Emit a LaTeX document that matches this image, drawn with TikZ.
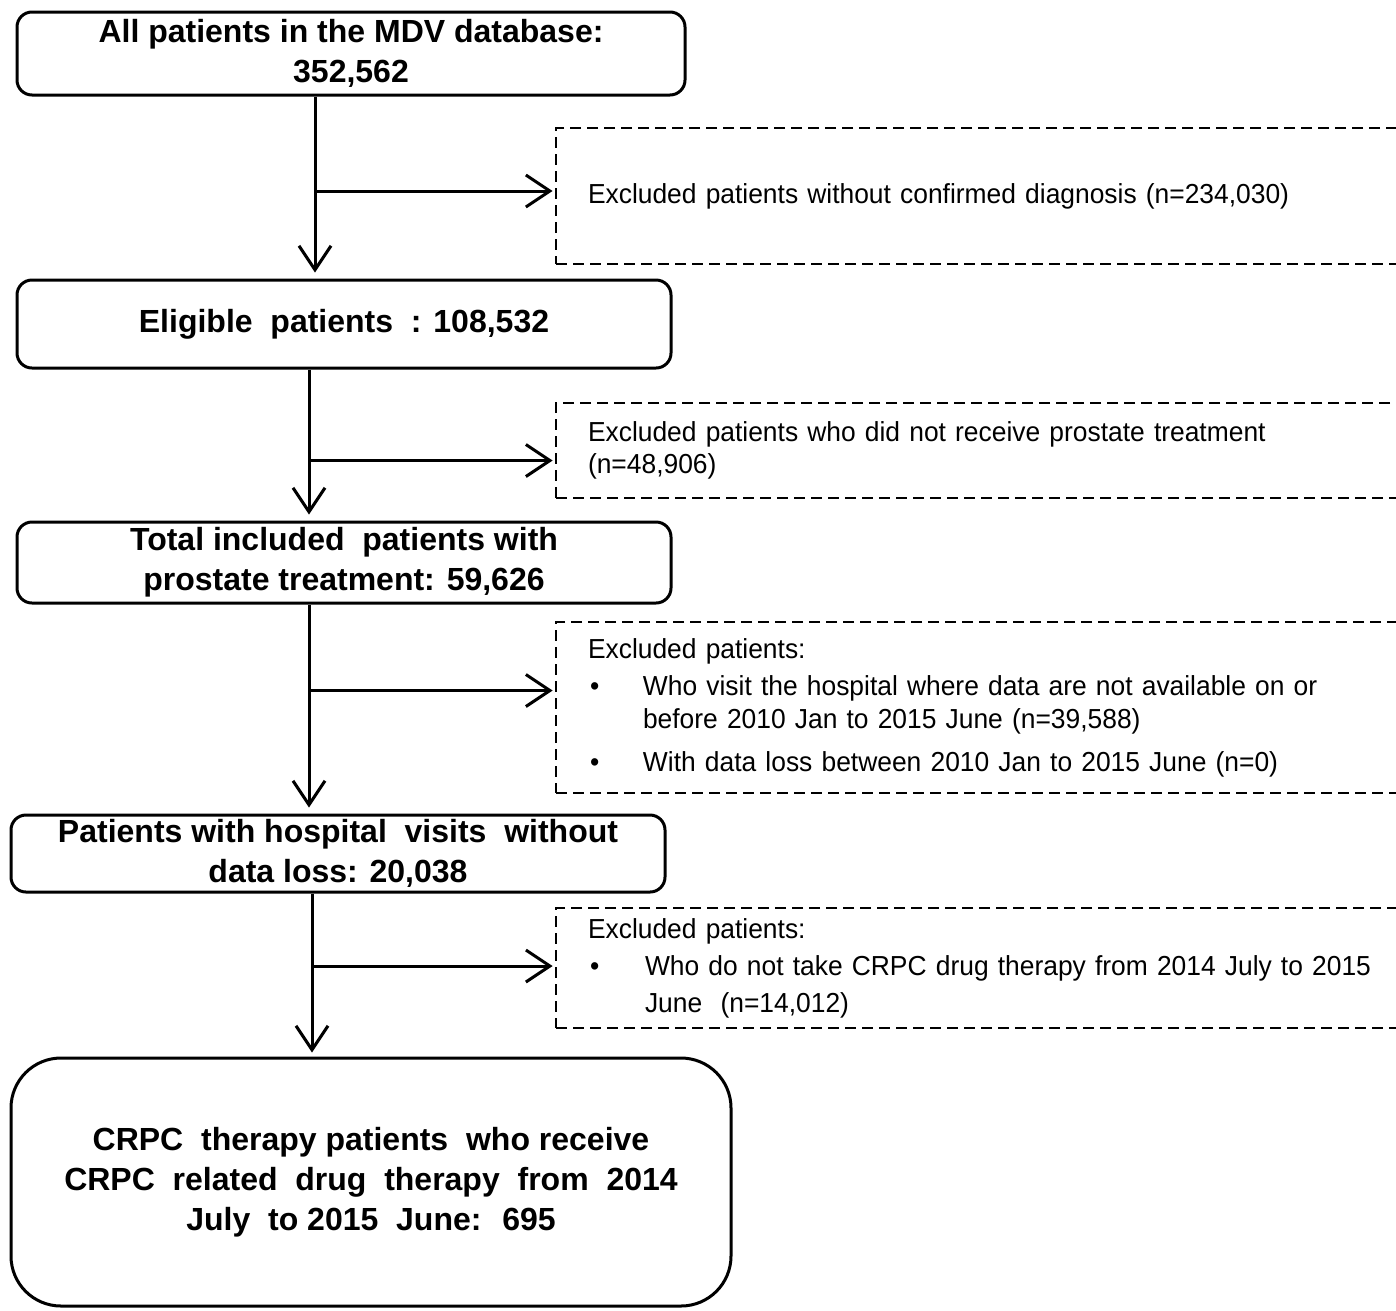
\documentclass[tikz,border=0pt]{standalone}
\usepackage{fontspec}
\setmainfont{Liberation Sans}
\newfontfamily\narrowfont[FakeStretch=0.96]{Liberation Sans}
\usetikzlibrary{arrows.meta,calc}
\begin{document}
\begin{tikzpicture}[x=1pt,y=-1pt,
  mainbox/.style={draw, line width=3pt, rounded corners=15pt, align=center,
    font=\fontsize{32}{40}\selectfont\bfseries, inner sep=0pt},
  exbox/.style={draw, line width=2.8pt, dash pattern=on 11pt off 6pt, align=left,
    text width=790pt, inner xsep=32pt, inner ysep=0pt, minimum width=854pt,
    font=\narrowfont\fontsize{27.5}{37}\selectfont},
  arr/.style={line width=3pt, -{Straight Barb[length=24pt,width=32pt,line width=3pt]}},
  branch/.style={line width=3pt, -{Straight Barb[length=24pt,width=32pt,line width=3pt]}, shorten >=2pt},
]
\useasboundingbox (0,0) rectangle (1396,1310);
\fill[white] (0,0) rectangle (1396,1310);

\node[mainbox, minimum width=668pt, minimum height=83pt] (b1) at (351,53.5)
  {All patients in the MDV database:\\352,562};
\node[mainbox, minimum width=654pt, minimum height=88pt] (b2) at (344,324)
  {Eligible \ patients \ : 108,532};
\node[mainbox, minimum width=654pt, minimum height=81pt] (b3) at (344,562.5)
  {Total included \ patients with\\prostate treatment: 59,626};
\node[mainbox, minimum width=654pt, minimum height=77pt] (b4) at (338,853.5)
  {Patients with hospital \ visits \ without\\data loss: 20,038};
\node[mainbox, rounded corners=50pt, minimum width=720pt, minimum height=248pt] (b5) at (371,1182)
  {CRPC \ therapy patients \ who receive\\CRPC \ related \ drug \ therapy \ from \ 2014\\July \ to 2015 \ June: \ 695};

\node[exbox, minimum height=136pt] (d1) at (983,196)
  {Excluded patients without confirmed diagnosis (n=234,030)};
\node[exbox, minimum height=95pt] (d2) at (983,450.5)
  {Excluded patients who did not receive prostate treatment\\[-5pt](n=48,906)};
\node[exbox, minimum height=171pt] (d3) at (983,707.5)
  {Excluded patients:\\
   \hspace*{2pt}\makebox[53pt][l]{\textbullet}Who visit the hospital where data are not available on or\\[-4pt]
   \hspace*{55pt}before 2010 Jan to 2015 June (n=39,588)\\[6pt]
   \hspace*{2pt}\makebox[53pt][l]{\textbullet}With data loss between 2010 Jan to 2015 June (n=0)};
\node[exbox, minimum height=120pt] (d4) at (983,968)
  {Excluded patients:\\
   \hspace*{2pt}\makebox[55pt][l]{\textbullet}Who do not take CRPC drug therapy from 2014 July to 2015\\
   \hspace*{57pt}June \ (n=14,012)};

% main flow
\coordinate (a1) at ([xshift=-36pt]b1.south);
\coordinate (a2) at ([xshift=-35pt]b2.south);
\coordinate (a3) at ([xshift=-35pt]b3.south);
\coordinate (a4) at ([xshift=-26pt]b4.south);
\draw[arr, shorten >=6pt] (a1) -- (a1 |- b2.north);
\draw[arr, shorten >=6pt] (a2) -- (a2 |- b3.north);
\draw[arr, shorten >=6pt] (a3) -- (a3 |- b4.north);
\draw[arr, shorten >=4pt] (a4) -- (a4 |- b5.north);

% branches
\coordinate (j1) at ([yshift=5pt]a1 |- d1.west);
\coordinate (j2) at ([yshift=-10pt]a2 |- d2.west);
\coordinate (j3) at ([yshift=17pt]a3 |- d3.west);
\coordinate (j4) at ([yshift=2pt]a4 |- d4.west);
\draw[branch] (j1) -- (j1 -| d1.west);
\draw[branch] (j2) -- (j2 -| d2.west);
\draw[branch] (j3) -- (j3 -| d3.west);
\draw[branch] (j4) -- (j4 -| d4.west);
\end{tikzpicture}
\end{document}
